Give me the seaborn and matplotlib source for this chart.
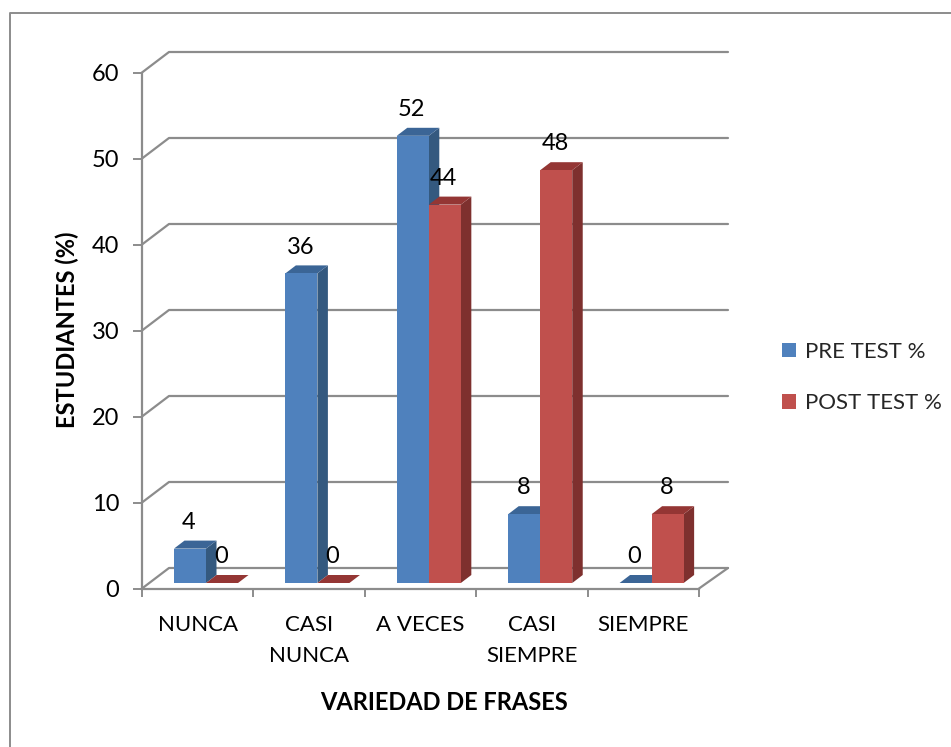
import matplotlib
matplotlib.use('Agg')
import matplotlib.pyplot as plt
from matplotlib.lines import Line2D
import pandas as pd
import seaborn as sns

categorias = ['NUNCA', 'CASI\nNUNCA', 'A VECES', 'CASI\nSIEMPRE', 'SIEMPRE']
pre_test = [4, 36, 52, 8, 0]
post_test = [0, 0, 44, 48, 8]
series = ['PRE TEST %', 'POST TEST %']
y_ticks = [0, 10, 20, 30, 40, 50, 60]

W, H = 951, 747
GRIS = '#8c8c8c'
colores = ['#4f81bd', '#c0504d']
laterales = ['#34597f', '#7e302e']
tapas = ['#3b6596', '#943634']

sns.set_theme(style='white')
plt.rcParams['font.family'] = ['Lato', 'DejaVu Sans']

df = pd.DataFrame({
    'cat': categorias * 2,
    'serie': [series[0]] * 5 + [series[1]] * 5,
    'val': pre_test + post_test,
})

fig = plt.figure(figsize=(W / 100, H / 100), dpi=100)
# eje frontal en pixeles: x 142-699, y 588.5-72.5
ax = fig.add_axes([142 / W, 1 - 588.5 / H, 557 / W, 516 / H])
sns.barplot(data=df, x='cat', y='val', hue='serie', palette=colores, saturation=1,
            width=0.575, gap=0, ax=ax, errorbar=None, linewidth=0)
ax.set_xlim(-0.5, 4.5)
ax.set_ylim(0, 60)

px_x = 5 / 557
px_y = 60 / 516

# piso y paredes
for t in y_ticks:
    ax.plot([-0.5, -0.5 + 27 * px_x, 4.5 + 29 * px_x],
            [t, t + 20.5 * px_y, t + 20.5 * px_y], color=GRIS, lw=1.6, clip_on=False, zorder=1)
ax.plot([4.5, 4.5 + 29 * px_x], [0, 20.5 * px_y], color=GRIS, lw=1.6, clip_on=False, zorder=1)

# barras con efecto 3D
sx, sy = 8.3 * px_x, 5.5 * px_y
dx, dy = 10.5 * px_x, 8 * px_y
for i, cont in enumerate(ax.containers):
    z = 3 + i
    for bar, v in zip(cont, [pre_test, post_test][i]):
        x0 = bar.get_x() + sx
        w = bar.get_width()
        bar.set_x(x0)
        bar.set_y(sy)
        bar.set_zorder(z + 0.5)
        bar.set_clip_on(False)
        y0, y1 = sy, sy + v
        ax.fill([x0 + w, x0 + w + dx, x0 + w + dx, x0 + w],
                [y0, y0 + dy, y1 + dy, y1], color=laterales[i], lw=0, clip_on=False, zorder=z)
        ax.fill([x0, x0 + w, x0 + w + dx, x0 + dx],
                [y1, y1, y1 + dy, y1 + dy], color=tapas[i], lw=0, clip_on=False, zorder=z)
        ax.annotate(str(v), (x0 + w / 2, y1), xytext=(-0.7, 19), textcoords='offset points',
                    ha='center', va='center', fontsize=17, color='black', zorder=10,
                    annotation_clip=False)

# ejes
sns.despine(ax=ax, top=True, right=True)
for s in ['left', 'bottom']:
    ax.spines[s].set_color(GRIS)
    ax.spines[s].set_linewidth(1.6)
    ax.spines[s].set_zorder(2)
ax.set_yticks(y_ticks)
ax.tick_params(axis='y', left=True, length=6.5, width=1.4, color=GRIS, pad=10,
               labelsize=17, labelcolor='black')
ax.set_xticks([-0.5, 0.5, 1.5, 2.5, 3.5, 4.5], [''] * 6)
ax.set_xticks(range(5), categorias, minor=True)
ax.tick_params(axis='x', which='major', bottom=True, length=6, width=1.4, color=GRIS)
ax.tick_params(axis='x', which='minor', bottom=False, length=0, pad=19,
               labelsize=16, labelcolor='black')
for lab in ax.get_xticklabels(minor=True):
    lab.set_linespacing(1.7)

ax.set_xlabel('')
ax.set_ylabel('')
fig.text(444 / W, 1 - 703 / H, 'VARIEDAD DE FRASES', ha='center', va='center',
         fontsize=17, fontweight='bold', color='black')
fig.text(67 / W, 1 - 330 / H, 'ESTUDIANTES (%)', ha='center', va='center', rotation=90,
         fontsize=17, fontweight='bold', color='black')

# leyenda
sns.move_legend(ax, 'center left', bbox_to_anchor=(782 / W, 1 - 377.5 / H),
                bbox_transform=fig.transFigure, frameon=False, title=None, fontsize=16,
                handlelength=0.63, handleheight=0.63, handletextpad=0.42, labelspacing=1.4,
                borderpad=0, borderaxespad=0)

# marco exterior
fig.add_artist(Line2D([10 / W, 10 / W, 1], [0, 1 - 12.5 / H, 1 - 12.5 / H], color=GRIS, lw=1.4))

fig.savefig('out.png', dpi=100)
